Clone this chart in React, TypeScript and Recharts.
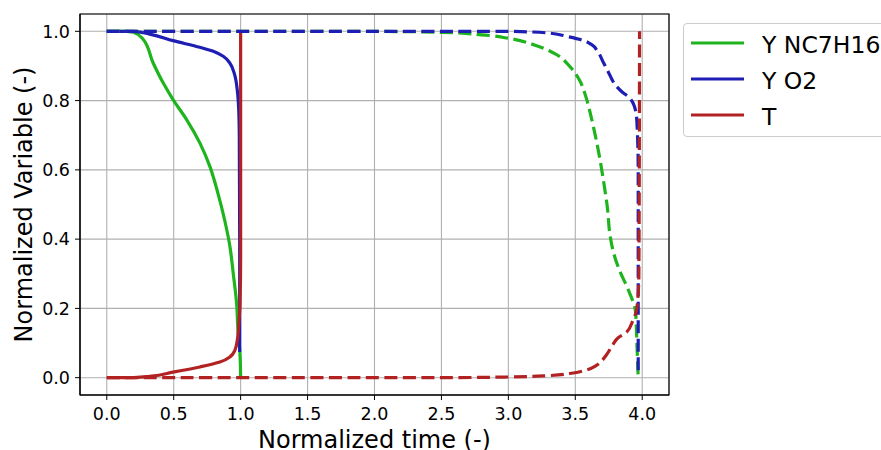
import { LineChart, Line, XAxis, YAxis, CartesianGrid, ReferenceArea } from 'recharts';

const xTicks = [0, 0.5, 1, 1.5, 2, 2.5, 3, 3.5, 4];
const yTicks = [0, 0.2, 0.4, 0.6, 0.8, 1.0];

const seriesNames = ['Y NC7H16', 'Y O2', 'T'];
const seriesColors = ['#1eb41e', '#1e1eb4', '#b22222'];

// first run (solid): [time, value]
const fuelSolid = [
  [0, 1], [0.15, 1], [0.2, 0.997], [0.27, 0.978], [0.345, 0.91], [0.42, 0.852], [0.5, 0.8],
  [0.595, 0.746], [0.695, 0.678], [0.77, 0.61], [0.83, 0.533], [0.88, 0.456], [0.92, 0.379],
  [0.945, 0.3], [0.97, 0.214], [0.98, 0.137], [0.995, 0.07], [1.0, 0],
];
const o2Solid = [
  [0, 1], [0.2, 1], [0.32, 0.992], [0.495, 0.973], [0.695, 0.954], [0.8, 0.942], [0.87, 0.928],
  [0.92, 0.908], [0.955, 0.875], [0.975, 0.83], [0.985, 0.78], [0.99, 0.7], [0.993, 0.4], [0.993, 0.074],
];
const tempSolid = [
  [0, 0], [0.2, 0], [0.32, 0.004], [0.495, 0.016], [0.695, 0.031], [0.845, 0.045], [0.92, 0.06],
  [0.957, 0.079], [0.975, 0.108], [0.988, 0.166], [0.995, 0.21], [1.0, 0.35], [1.0, 1.0],
];

// second run (dashed)
const fuelDashed = [
  [0, 1], [2.0, 1], [2.5, 0.997], [2.8, 0.99], [3.0, 0.98], [3.2, 0.96], [3.35, 0.935],
  [3.46, 0.898], [3.53, 0.86], [3.58, 0.81], [3.62, 0.75], [3.67, 0.66], [3.71, 0.57],
  [3.74, 0.49], [3.76, 0.41], [3.79, 0.355], [3.83, 0.31], [3.9, 0.25], [3.95, 0.19],
  [3.96, 0.1], [3.97, 0],
];
const o2Dashed = [
  [0, 1], [3.0, 1], [3.3, 0.995], [3.44, 0.985], [3.55, 0.975], [3.62, 0.962], [3.67, 0.94],
  [3.71, 0.91], [3.75, 0.88], [3.8, 0.845], [3.85, 0.825], [3.9, 0.81], [3.94, 0.785],
  [3.96, 0.74], [3.97, 0.6], [3.97, 0.01],
];
const tempDashed = [
  [0, 0], [2.5, 0], [3.0, 0.002], [3.3, 0.006], [3.46, 0.012], [3.58, 0.022], [3.66, 0.036],
  [3.7, 0.05], [3.74, 0.07], [3.78, 0.095], [3.82, 0.115], [3.88, 0.13], [3.93, 0.165],
  [3.96, 0.2], [3.975, 0.3], [3.98, 1.0],
];

const toPoints = (arr: number[][]) => arr.map(([x, y]) => ({ x, y }));

const solidSeries = [fuelSolid, o2Solid, tempSolid];
const dashedSeries = [fuelDashed, o2Dashed, tempDashed];

const FONT = '"DejaVu Sans", sans-serif';

const LegendBox = () => (
  <div
    style={{
      position: 'absolute',
      left: 683,
      top: 23,
      width: 230,
      height: 114,
      border: '1px solid #cccccc',
      borderRadius: 4,
      background: '#fff',
      boxSizing: 'border-box',
    }}
  >
    <svg width={230} height={112} style={{ display: 'block' }}>
      {seriesNames.map((name, i) => (
        <g key={name}>
          <line x1={7} x2={60} y1={19 + i * 36} y2={19 + i * 36} stroke={seriesColors[i]} strokeWidth={3} />
          <text x={78} y={28.5 + i * 36} fontSize={23.5} fontFamily={FONT} fill="#000">
            {name}
          </text>
        </g>
      ))}
    </svg>
  </div>
);

export default function App() {
  return (
    <div style={{ position: 'absolute', left: 0, top: 0, width: 881, height: 450, overflow: 'hidden', background: '#fff' }}>
      <LineChart width={881} height={450} margin={{ top: 14, right: 212, left: 0, bottom: 0 }}>
        <CartesianGrid stroke="#b0b0b0" strokeWidth={1.1} horizontal vertical />
        <XAxis
          type="number"
          dataKey="x"
          domain={[-0.2, 4.2]}
          ticks={xTicks}
          allowDataOverflow
          height={55}
          tickSize={5}
          tickMargin={8}
          tickFormatter={(v: number) => v.toFixed(1)}
          stroke="#000"
          tick={{ fill: '#000', fontSize: 17.5, fontFamily: FONT }}
          label={{
            content: () => (
              <text x={374.5} y={448} textAnchor="middle" fontSize={24} fontFamily={FONT} fill="#000">
                Normalized time (-)
              </text>
            ),
          }}
        />
        <YAxis
          type="number"
          domain={[-0.05, 1.05]}
          ticks={yTicks}
          allowDataOverflow
          width={80}
          tickSize={5}
          tickMargin={5}
          tickFormatter={(v: number) => v.toFixed(1)}
          stroke="#000"
          tick={{ fill: '#000', fontSize: 17.5, fontFamily: FONT }}
          label={{
            content: () => (
              <text
                x={31.5}
                y={204.5}
                transform="rotate(-90, 31.5, 204.5)"
                textAnchor="middle"
                fontSize={24}
                fontFamily={FONT}
                fill="#000"
              >
                Normalized Variable (-)
              </text>
            ),
          }}
        />
        {solidSeries.map((s, i) => (
          <Line
            key={`solid-${i}`}
            data={toPoints(s)}
            dataKey="y"
            type="monotoneY"
            stroke={seriesColors[i]}
            strokeWidth={3.2}
            dot={false}
            activeDot={false}
            isAnimationActive={false}
            name={seriesNames[i]}
          />
        ))}
        {dashedSeries.map((s, i) => (
          <Line
            key={`dashed-${i}`}
            data={toPoints(s)}
            dataKey="y"
            type="monotoneY"
            stroke={seriesColors[i]}
            strokeWidth={3.2}
            strokeDasharray="13 5.5"
            dot={false}
            activeDot={false}
            isAnimationActive={false}
            legendType="none"
          />
        ))}
        <ReferenceArea x1={-0.2} x2={4.2} y1={-0.05} y2={1.05} fill="none" stroke="#000" strokeWidth={1.2} />
      </LineChart>
      <LegendBox />
    </div>
  );
}
